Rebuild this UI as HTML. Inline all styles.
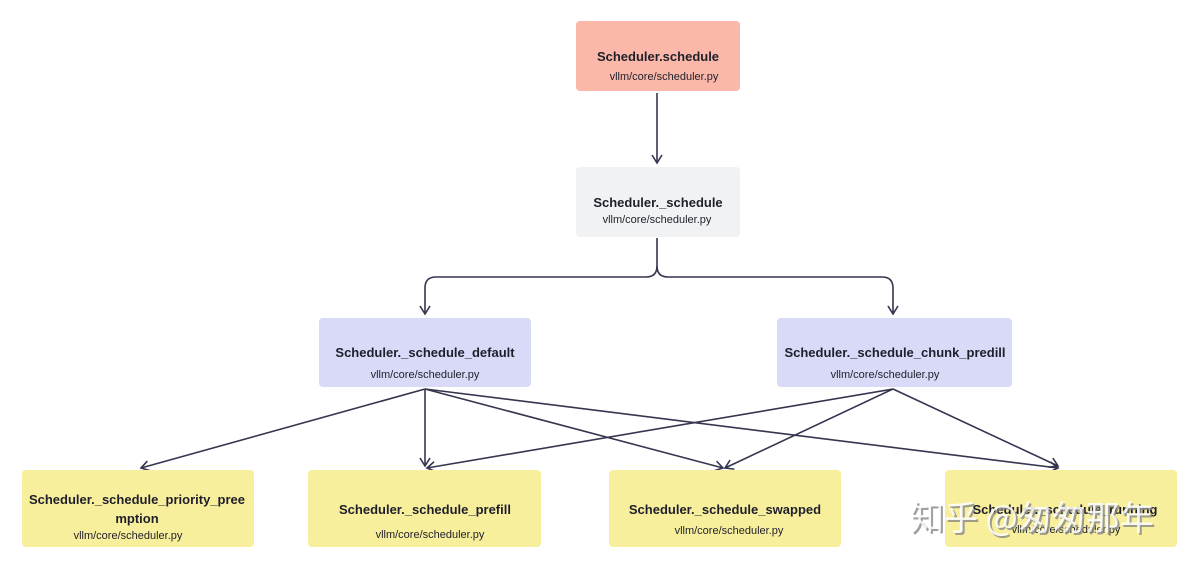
<!DOCTYPE html>
<html><head><meta charset="utf-8"><style>
html,body{margin:0;padding:0;background:#fff;}
svg{display:block;}
.t{font-family:"Liberation Sans","Noto Sans CJK SC",sans-serif;font-weight:bold;font-size:13px;fill:#1f1f2b;text-anchor:middle;}
.s{font-family:"Liberation Sans",sans-serif;font-size:11px;fill:#1f1f2b;text-anchor:middle;}
</style></head><body>
<svg width="1200" height="569" viewBox="0 0 1200 569" xmlns="http://www.w3.org/2000/svg">
<defs><marker id="a" markerWidth="12" markerHeight="12" refX="10" refY="6" orient="auto" markerUnits="userSpaceOnUse"><path d="M2,1 L10,6 L2,11" fill="none" stroke="#35354f" stroke-width="1.6"/></marker></defs>
<g fill="none" stroke="#35354f" stroke-width="1.6" marker-end="url(#a)">
<path d="M657,93 V163"/>
<path d="M657,238 V266 Q657,277 646,277 H436 Q425,277 425,288 V314"/>
<path d="M657,266 Q657,277 668,277 H882 Q893,277 893,288 V314"/>
<path d="M425,389 L141,468"/>
<path d="M425,389 V466"/>
<path d="M425,389 L723,468"/>
<path d="M425,389 L1058,468"/>
<path d="M893,389 L427,468"/>
<path d="M893,389 L725,468"/>
<path d="M893,389 L1058,466"/>
</g>
<rect x="576" y="21" width="164" height="70" rx="4" fill="#fbb8a8"/>
<text class="t" x="658" y="61">Scheduler.schedule</text>
<text class="s" x="664" y="80">vllm/core/scheduler.py</text>
<rect x="576" y="167" width="164" height="70" rx="4" fill="#f1f2f3"/>
<text class="t" x="658" y="207">Scheduler._schedule</text>
<text class="s" x="657" y="223">vllm/core/scheduler.py</text>
<rect x="319" y="318" width="212" height="69" rx="4" fill="#d8daf7"/>
<text class="t" x="425" y="357">Scheduler._schedule_default</text>
<text class="s" x="425" y="378">vllm/core/scheduler.py</text>
<rect x="777" y="318" width="235" height="69" rx="4" fill="#d8daf7"/>
<text class="t" x="895" y="357">Scheduler._schedule_chunk_predill</text>
<text class="s" x="885" y="378">vllm/core/scheduler.py</text>
<rect x="22" y="470" width="232" height="77" rx="4" fill="#f8ef9c"/>
<text class="t" x="137" y="504">Scheduler._schedule_priority_pree</text>
<text class="t" x="137" y="523">mption</text>
<text class="s" x="128" y="539">vllm/core/scheduler.py</text>
<rect x="308" y="470" width="233" height="77" rx="4" fill="#f8ef9c"/>
<text class="t" x="425" y="514">Scheduler._schedule_prefill</text>
<text class="s" x="430" y="538">vllm/core/scheduler.py</text>
<rect x="609" y="470" width="232" height="77" rx="4" fill="#f8ef9c"/>
<text class="t" x="725" y="514">Scheduler._schedule_swapped</text>
<text class="s" x="729" y="534">vllm/core/scheduler.py</text>
<rect x="945" y="470" width="232" height="77" rx="4" fill="#f8ef9c"/>
<text class="t" x="1065" y="514">Scheduler._schedule_running</text>
<text class="s" x="1066" y="533">vllm/core/scheduler.py</text>
<text x="912" y="532" font-family="Noto Sans CJK SC,sans-serif" font-size="34" fill="#888" opacity="0.8">知乎 @匆匆那年</text>
<text x="910" y="530" font-family="Noto Sans CJK SC,sans-serif" font-size="34" fill="#fff" opacity="0.85">知乎 @匆匆那年</text>
</svg>
</body></html>
